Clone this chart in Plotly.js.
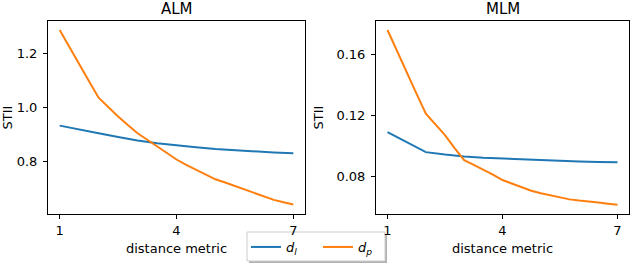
<!DOCTYPE html>
<html>
<head>
<meta charset="utf-8">
<script src="https://cdn.plot.ly/plotly-3.0.1.min.js"></script>
<style>
html,body{margin:0;padding:0;background:#fff;}
#chart{width:634px;height:266px;}
</style>
</head>
<body>
<div id="chart"></div>
<script>
// ---- data ----
var xFine = [1,1.25,1.5,1.75,2,2.25,2.5,2.75,3,3.25,3.5,3.75,4,4.25,4.5,4.75,5,5.25,5.5,5.75,6,6.25,6.5,6.75,7];
var xCoarse = [1,1.5,2,2.5,3,3.5,4,4.5,5,5.5,6,6.5,7];

var almDl = [0.933,0.918,0.905,0.891,0.878,0.868,0.860,0.853,0.847,0.842,0.837,0.834,0.831];
var almDp = [1.286,1.222,1.160,1.098,1.036,1.001,0.967,0.935,0.905,0.881,0.857,0.833,0.808,0.788,0.770,0.752,0.735,0.723,0.710,0.696,0.683,0.670,0.659,0.650,0.642];

var mlmDl = [0.1090,0.1025,0.0958,0.0942,0.0929,0.0921,0.0915,0.0910,0.0903,0.0898,0.0896,0.0893,0.0891];
var mlmDp = [0.1760,0.1618,0.1480,0.1345,0.1210,0.1140,0.1070,0.0985,0.0905,0.0875,0.0845,0.0810,0.0775,0.0750,0.0728,0.0705,0.0688,0.0674,0.0660,0.0648,0.0640,0.0635,0.0628,0.0620,0.0613];

var panelTitles = ['ALM','MLM'];
var xTicks = [1,4,7];
var almYTicks = [0.8,1.0,1.2];
var almYLabels = ['0.8','1.0','1.2'];
var mlmYTicks = [0.08,0.12,0.16];
var mlmYLabels = ['0.08','0.12','0.16'];
var xLabel = 'distance metric';
var yLabel = 'STII';
var nameDl = '<i>d</i><sub><i>l</i></sub>';
var nameDp = '<i>d</i><sub><i>p</i></sub>';

// ---- styles ----
var BLUE = '#1f77b4', ORANGE = '#ff7f0e';
var FONT = 'DejaVu Sans, sans-serif';
var W = 634, H = 266;
function px(x){return x/W;}
function py(y){return 1 - y/H;}

var traces = [
  {x:xCoarse, y:almDl, xaxis:'x', yaxis:'y', mode:'lines', name:nameDl, legendgroup:'dl',
   line:{color:BLUE,width:2}},
  {x:xFine, y:almDp, xaxis:'x', yaxis:'y', mode:'lines', name:nameDp, legendgroup:'dp',
   line:{color:ORANGE,width:2}},
  {x:xCoarse, y:mlmDl, xaxis:'x2', yaxis:'y2', mode:'lines', name:nameDl, legendgroup:'dl', showlegend:false,
   line:{color:BLUE,width:2}},
  {x:xFine, y:mlmDp, xaxis:'x2', yaxis:'y2', mode:'lines', name:nameDp, legendgroup:'dp', showlegend:false,
   line:{color:ORANGE,width:2}}
];

function xAxis(domain, anchor){
  return {domain:domain, anchor:anchor, range:[0.7,7.3], tickmode:'array', tickvals:xTicks,
    ticktext:xTicks.map(String), ticks:'outside', ticklen:4, tickwidth:1, tickcolor:'#000',
    showline:true, linecolor:'#000', linewidth:1, mirror:true, showgrid:false, zeroline:false,
    tickfont:{family:FONT,size:13,color:'#000'}, automargin:false,
    title:{text:xLabel, font:{family:FONT,size:13,color:'#000'}, standoff:7}};
}
function yAxis(domain, anchor, range, tv, tt){
  return {domain:domain, anchor:anchor, range:range, tickmode:'array', tickvals:tv, ticktext:tt,
    ticks:'outside', ticklen:4, tickwidth:1, tickcolor:'#000', ticklabelstandoff:3,
    showline:true, linecolor:'#000', linewidth:1, mirror:true, showgrid:false, zeroline:false,
    tickfont:{family:FONT,size:13,color:'#000'}, automargin:false,
    title:{text:yLabel, font:{family:FONT,size:13,color:'#000'}, standoff:9}};
}

var yDom = [py(214), py(21)];
var layout = {
  width:W, height:H, margin:{l:0,r:0,t:0,b:0}, paper_bgcolor:'#fff', plot_bgcolor:'#fff',
  font:{family:FONT,size:13,color:'#000'},
  xaxis: xAxis([px(48),px(305)], 'y'),
  yaxis: yAxis(yDom, 'x', [0.607,1.319], almYTicks, almYLabels),
  xaxis2: xAxis([px(376),px(629)], 'y2'),
  yaxis2: yAxis(yDom, 'x2', [0.0552,0.1819], mlmYTicks, mlmYLabels),
  showlegend:true,
  legend:{orientation:'h', x:px(246), xanchor:'left', y:py(232), yanchor:'top',
    bgcolor:'rgba(0,0,0,0)', borderwidth:0, font:{family:FONT,size:13,color:'#000'},
    entrywidth:27, entrywidthmode:'pixels', tracegroupgap:0},
  annotations:[
    {text:panelTitles[0], xref:'paper', yref:'paper', x:px(176.5), y:py(21), xanchor:'center', yanchor:'bottom',
     yshift:1, showarrow:false, font:{family:FONT,size:15,color:'#000'}},
    {text:panelTitles[1], xref:'paper', yref:'paper', x:px(502.5), y:py(21), xanchor:'center', yanchor:'bottom',
     yshift:1, showarrow:false, font:{family:FONT,size:15,color:'#000'}}
  ],
  shapes:[
    {type:'rect', xref:'paper', yref:'paper', x0:px(249), x1:px(387), y0:py(234), y1:py(263),
     fillcolor:'rgba(0,0,0,0.3)', line:{width:0}, layer:'below'},
    {type:'rect', xref:'paper', yref:'paper', x0:px(247), x1:px(385), y0:py(232), y1:py(261),
     fillcolor:'#fff', line:{color:'#cccccc',width:1}, layer:'below'}
  ]
};

Plotly.newPlot('chart', traces, layout, {displayModeBar:false, staticPlot:true});
</script>
</body>
</html>
